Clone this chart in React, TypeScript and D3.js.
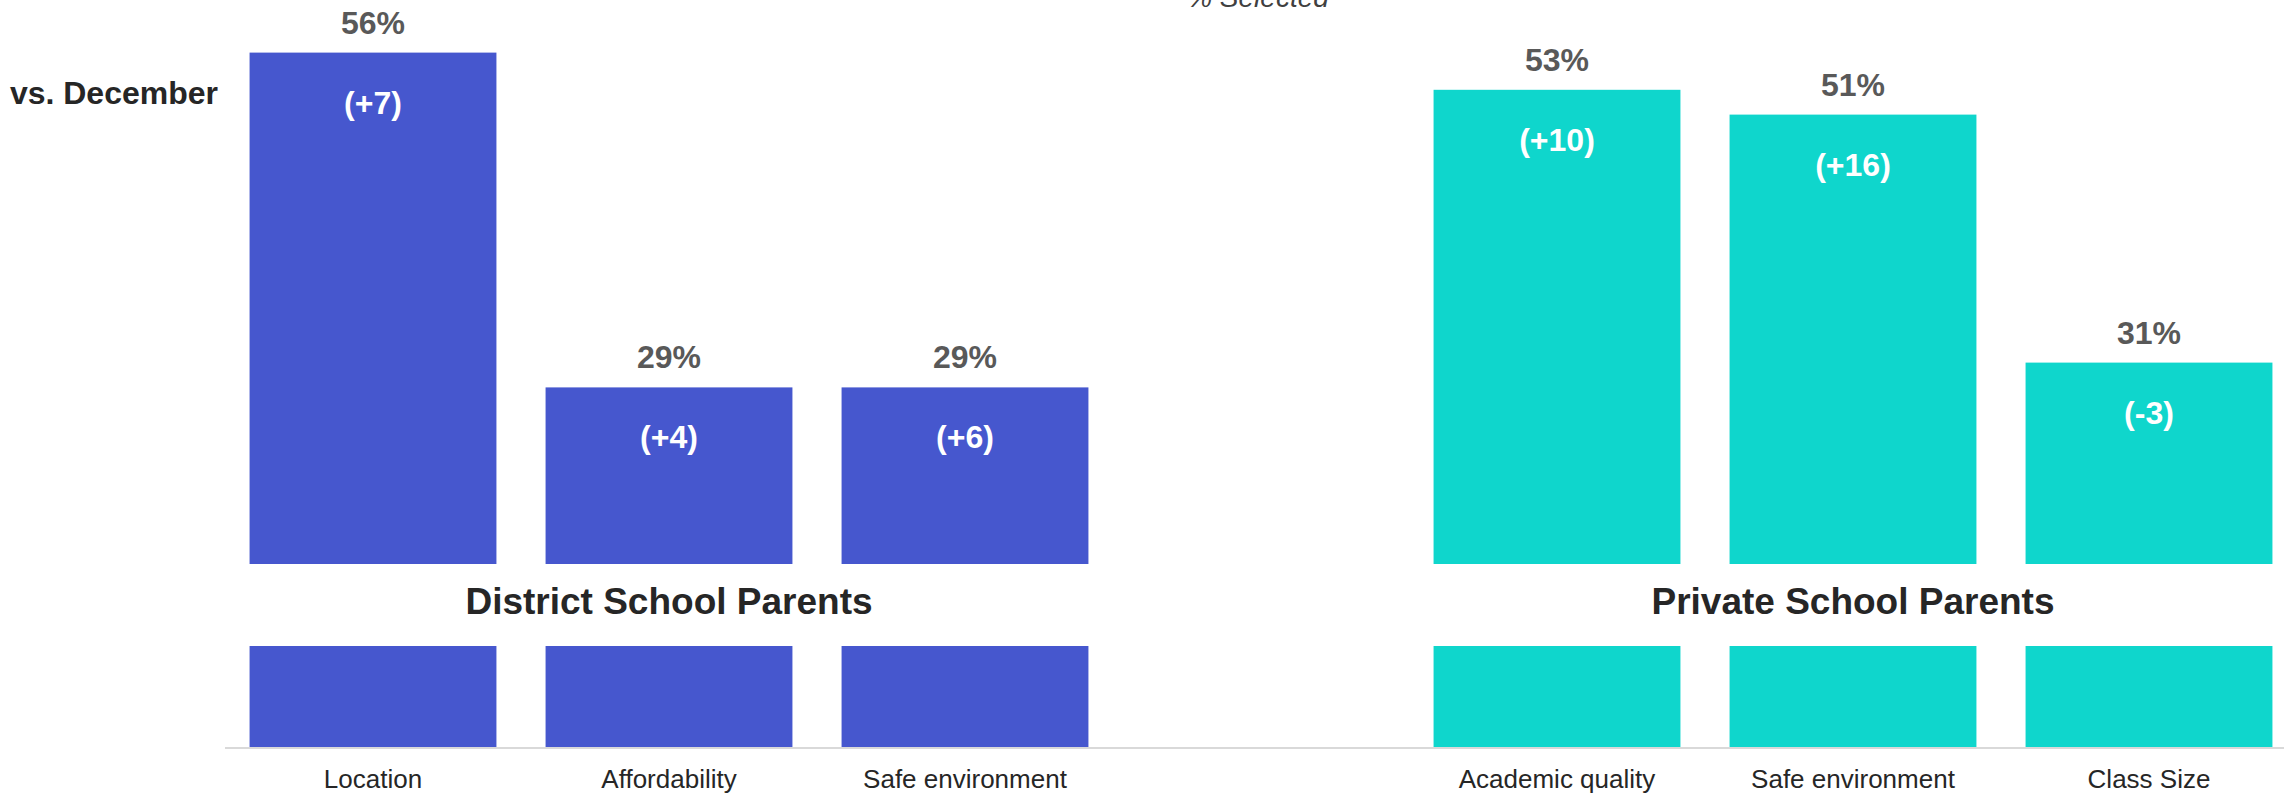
import React from "react";
import * as d3 from "d3";

const groups = ["District School Parents", "Private School Parents"];
const categories = ["Location", "Affordability", "Safe environment", "Academic quality", "Safe environment", "Class Size"];
const groupOf = [0, 0, 0, 1, 1, 1];
const values = [56, 29, 29, 53, 51, 31];
const changes = [7, 4, 6, 10, 16, -3];
const groupColors = ["#4657ce", "#0fd6cc"];
const title = "% Selected";
const rowLabel = "vs. December";

const W = 2284;
const H = 794;
const FONT = "'Liberation Sans', Arial, sans-serif";

export default function App() {
  const slots = categories.map((_, i) => (i < 3 ? i : i + 1));
  const x = d3
    .scaleBand<number>()
    .domain(d3.range(7))
    .range([225, 2297])
    .paddingInner(0.166)
    .paddingOuter(0.083);
  const y = d3.scaleLinear().domain([0, 60]).range([747, 3]);
  const bw = x.bandwidth();
  const fmt = (c: number) => `(${c > 0 ? "+" : ""}${c})`;

  const groupCenters = groups.map((_, g) => {
    const idx = slots.filter((_, i) => groupOf[i] === g);
    const x0 = x(idx[0])!;
    const x1 = x(idx[idx.length - 1])! + bw;
    return (x0 + x1) / 2;
  });

  return (
    <svg
      width={W}
      height={H}
      style={{ position: "absolute", left: 0, top: 0, display: "block", background: "#fff" }}
      fontFamily={FONT}
    >
      <rect x={0} y={0} width={W} height={H} fill="#fff" />
      <text x={(225 + 2297) / 2 - 3} y={7} textAnchor="middle" fontSize={28} fontStyle="italic" fill="#404040">
        {title}
      </text>
      <text x={218} y={104} textAnchor="end" fontSize={32} fontWeight="bold" fill="#262626">
        {rowLabel}
      </text>
      {values.map((v, i) => {
        const bx = x(slots[i])!;
        return (
          <g key={i}>
            <rect x={bx} y={y(v)} width={bw} height={y(0) - y(v)} fill={groupColors[groupOf[i]]} />
          </g>
        );
      })}
      {/* white band for group labels */}
      <rect x={225} y={564} width={W - 225} height={82} fill="#fff" />
      {groups.map((g, gi) => (
        <text key={g} x={groupCenters[gi]} y={614} textAnchor="middle" fontSize={37} fontWeight="bold" fill="#262626">
          {g}
        </text>
      ))}
      {values.map((v, i) => {
        const cx = x(slots[i])! + bw / 2;
        return (
          <g key={"l" + i}>
            <text x={cx} y={y(v) - 19} textAnchor="middle" fontSize={32} fontWeight="bold" fill="#595959">
              {`${v}%`}
            </text>
            <text x={cx} y={y(v) + 61} textAnchor="middle" fontSize={32} fontWeight="bold" fill="#ffffff">
              {fmt(changes[i])}
            </text>
            <text x={cx} y={788} textAnchor="middle" fontSize={26} fill="#262626">
              {categories[i]}
            </text>
          </g>
        );
      })}
      <line x1={225} x2={W} y1={748} y2={748} stroke="#d9d9d9" strokeWidth={2} />
    </svg>
  );
}
